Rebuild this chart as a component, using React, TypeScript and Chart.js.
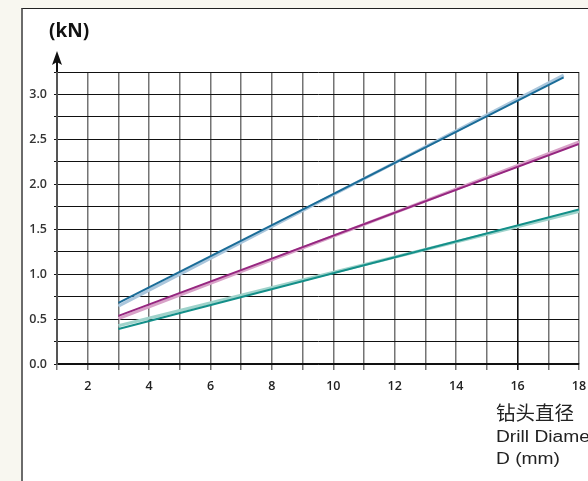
import React, { useEffect, useRef } from "react";
import Chart from "chart.js/auto";

const blueX = [3, 17.5];
const blueDark = [0.68, 3.19];
const blueLight = [0.645, 3.215];
const purpleX = [3, 18];
const purpleDark = [0.535, 2.45];
const purpleLight = [0.505, 2.47];
const tealX = [3, 18];
const tealDark = [0.39, 1.72];
const tealLight = [0.425, 1.7];

const xLabels = [2, 4, 6, 8, 10, 12, 14, 16, 18];
const yLabels = [0, 0.5, 1, 1.5, 2, 2.5, 3];

const pts = (xs: number[], ys: number[]) => xs.map((x, i) => ({ x, y: ys[i] }));

const arrowPlugin = {
  id: "arrow",
  afterDraw(chart: any) {
    const ctx = chart.ctx;
    const x = chart.chartArea.left;
    const top = chart.chartArea.top;
    ctx.save();
    ctx.strokeStyle = "#111";
    ctx.fillStyle = "#111";
    ctx.lineWidth = 2;
    ctx.beginPath();
    ctx.moveTo(x, top);
    ctx.lineTo(x, top - 10);
    ctx.stroke();
    ctx.beginPath();
    ctx.moveTo(x, top - 21);
    ctx.lineTo(x - 5, top - 7);
    ctx.lineTo(x, top - 10);
    ctx.lineTo(x + 5, top - 7);
    ctx.closePath();
    ctx.fill();
    ctx.restore();
  },
};

export default function App() {
  const ref = useRef<HTMLCanvasElement>(null);
  useEffect(() => {
    const ds = (data: any, color: string, w: number, order: number) => ({
      data,
      borderColor: color,
      borderWidth: w,
      pointRadius: 0,
      fill: false,
      tension: 0,
      order,
    });
    const chart = new Chart(ref.current!, {
      type: "line",
      data: {
        datasets: [
          ds(pts(blueX, blueLight), "#aac6dc", 3.2, 2),
          ds(pts(blueX, blueDark), "#1a6c98", 2, 1),
          ds(pts(purpleX, purpleLight), "#d8a2c8", 3.2, 2),
          ds(pts(purpleX, purpleDark), "#962680", 2, 1),
          ds(pts(tealX, tealLight), "#9fd3cb", 3.2, 2),
          ds(pts(tealX, tealDark), "#138f89", 2, 1),
        ],
      },
      options: {
        animation: false,
        responsive: false,
        events: [],
        layout: { padding: { left: 0, top: 72, right: 9, bottom: 87 } },
        plugins: { legend: { display: false }, tooltip: { enabled: false } },
        scales: {
          x: {
            type: "linear",
            min: 1,
            max: 18,
            afterFit: (s: any) => {
              s.height = 30;
              s.paddingRight = 0;
              s.paddingLeft = 0;
            },
            ticks: {
              stepSize: 1,
              autoSkip: false,
              maxRotation: 0,
              padding: 9,
              color: "#222",
              font: { family: "Open Sans", weight: "600", size: 12.5 },
              callback: (v: any) => (xLabels.includes(v) ? String(v) : ""),
            },
            grid: {
              color: (c: any) => (c.tick && c.tick.value === 16 ? "#111" : "rgba(70,70,70,0.75)"),
              lineWidth: (c: any) => (c.tick && c.tick.value === 16 ? 1.6 : 1.5),
              tickLength: 6,
              drawOnChartArea: true,
            },
            border: { color: "#111", width: 1.5 },
          },
          y: {
            type: "linear",
            min: 0,
            max: 3.25,
            afterFit: (s: any) => {
              s.width = 57;
            },
            ticks: {
              stepSize: 0.25,
              autoSkip: false,
              padding: 7,
              color: "#333",
              font: { family: "Open Sans", weight: "600", size: 12.5 },
              callback: (v: any) => (yLabels.includes(v) ? Number(v).toFixed(1) : ""),
            },
            grid: { color: "#111", lineWidth: 1, tickLength: 3 },
            border: { color: "#555", width: 2 },
          },
        },
      },
      plugins: [arrowPlugin],
    } as any);
    return () => chart.destroy();
  }, []);

  const latin: React.CSSProperties = {
    fontFamily: "Liberation Sans",
    fontSize: 16,
    lineHeight: "22px",
    transform: "scaleX(1.2)",
    transformOrigin: "left center",
  };

  return (
    <div
      style={{
        position: "fixed",
        left: 0,
        top: 0,
        width: 588,
        height: 481,
        overflow: "hidden",
        background: "#f8f7f0",
      }}
    >
      <div
        style={{
          position: "absolute",
          left: 21,
          top: 8,
          width: 600,
          height: 500,
          background: "#fff",
          borderLeft: "2px solid #6b6b6b",
          borderTop: "1.5px solid #222",
        }}
      />
      <canvas ref={ref} width={588} height={481} style={{ position: "absolute", left: 0, top: 0, width: 588, height: 481 }} />
      <div
        style={{
          position: "absolute",
          left: 49,
          top: 17,
          fontFamily: "Open Sans",
          fontWeight: 700,
          fontSize: 19,
          color: "#111",
          lineHeight: "26px",
        }}
      >
        (kN)
      </div>
      <div
        style={{
          position: "absolute",
          left: 496,
          top: 398,
          color: "#222",
          whiteSpace: "nowrap",
        }}
      >
        <div style={{ fontFamily: "Noto Sans CJK SC", fontSize: 19.5, lineHeight: "28px" }}>钻头直径</div>
        <div style={latin}>Drill Diameter</div>
        <div style={latin}>D (mm)</div>
      </div>
    </div>
  );
}
